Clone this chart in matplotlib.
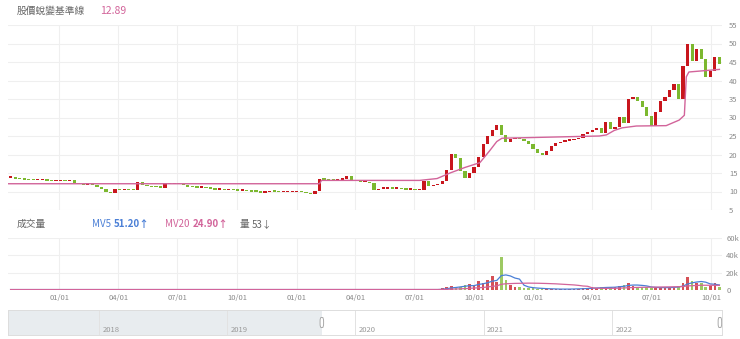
import numpy as np
import pandas as pd
import matplotlib
matplotlib.use('Agg')
import matplotlib.pyplot as plt
import matplotlib.dates as mdates
from matplotlib.patches import FancyBboxPatch

plt.rcParams['font.family'] = ['Noto Sans CJK TC', 'DejaVu Sans']

# 週資料 (由圖讀出的收盤價)
weeks = pd.date_range('2019-10-18', periods=157, freq='W-FRI')
close = [13.8, 13.5, 13.4, 13.3, 13.2, 13.1, 13.1, 13.1, 13.0, 12.9,
         12.9, 13.0, 12.9, 13.1, 12.4, 12.0, 11.8, 12.3, 11.8, 11.3,
         10.7, 10.1, 9.6, 10.7, 10.4, 10.7, 10.5, 10.4, 12.6, 11.8,
         11.5, 11.3, 11.2, 11.1, 12.4, 12.0, 12.5, 12.1, 11.8, 11.4,
         11.2, 11.1, 11.3, 11.0, 10.8, 10.6, 10.6, 10.5, 10.5, 10.4,
         10.3, 10.4, 10.2, 10.1, 10.0, 9.8, 9.9, 10.1, 10.0, 9.9,
         9.9, 9.9, 9.9, 10.0, 9.9, 9.6, 9.4, 10.2, 13.6, 13.3,
         13.2, 13.1, 13.3, 13.5, 14.2, 13.1, 12.9, 12.6, 12.7, 12.3,
         10.4, 10.9, 10.9, 10.9, 10.8, 10.8, 10.7, 10.6, 10.6, 10.4,
         10.4, 13.0, 11.5, 11.8, 12.2, 13.0, 16.0, 20.2, 19.2, 15.6,
         13.8, 15.2, 16.8, 19.5, 23.0, 25.2, 26.6, 28.2, 25.5, 23.5,
         24.2, 24.6, 24.2, 23.8, 23.0, 21.5, 20.5, 20.0, 21.0, 22.5,
         23.2, 23.5, 23.8, 24.0, 24.2, 24.5, 25.7, 26.2, 26.8, 27.3,
         25.8, 29.0, 27.0, 27.5, 30.2, 28.5, 35.0, 35.6, 34.5, 33.0,
         30.5, 27.8, 31.5, 34.6, 35.6, 37.5, 39.2, 35.0, 44.0, 50.0,
         45.5, 48.5, 46.0, 41.0, 42.8, 46.5, 44.6]
volume_k = [0.5] * 95 + [
    2, 4, 5, 3, 4, 6, 7, 5, 10, 8,
    12, 16, 9, 38, 12, 6, 4, 3, 2.5, 2,
    2, 1.5, 1.2, 1, 1, 1, 1, 1, 1.2, 1.5,
    1.5, 2, 2.5, 3, 2.5, 3, 3.5, 3, 4, 5,
    6, 8.5, 5, 4, 3, 3, 2.5, 2.5, 3, 3,
    3, 3.5, 5, 8, 15, 10, 8, 8, 4, 5,
    8, 4]

# 股價蛻變基準線 轉折點
base_dates = ['2019-10-14', '2021-02-05', '2021-02-08', '2021-07-09', '2021-08-05',
              '2021-08-25', '2021-09-17', '2021-10-10', '2021-10-25', '2021-11-05',
              '2021-11-13', '2022-04-12', '2022-04-23', '2022-05-05', '2022-05-17',
              '2022-06-08', '2022-07-24', '2022-08-13', '2022-08-21', '2022-08-24',
              '2022-08-28', '2022-10-14']
base_vals = [12.1, 12.1, 13.0, 13.0, 13.5, 15.0, 16.5, 17.8, 21.0, 23.5,
             24.4, 25.0, 25.3, 26.5, 27.2, 27.7, 27.8, 29.3, 30.6, 41.0,
             42.3, 43.0]

years = ['2018', '2019', '2020', '2021', '2022']

RED = '#c8161d'
GREEN = '#7cb82f'
PINK = '#d2649a'
BLUE = '#4a7fd6'
GRAY = '#8a8a8a'

close = np.array(close)
opens = np.r_[close[0], close[:-1]]
vol = np.array(volume_k) * 1000
up = close >= opens
cols = np.where(up, RED, GREEN)

fig = plt.figure(figsize=(7.4, 3.39), dpi=100)
x0, x1 = pd.Timestamp('2019-10-14'), pd.Timestamp('2022-10-18')

# 主圖
ax = fig.add_axes([8 / 740, 1 - 210 / 339, 714 / 740, 185 / 339])
body_lo = np.minimum(opens, close)
body_h = np.maximum(np.abs(close - opens), 0.4)
ax.bar(weeks, body_h, bottom=body_lo - 0.1, width=5, color=cols, linewidth=0)
ax.plot(pd.to_datetime(base_dates), base_vals, color=PINK, lw=1)
ax.set_xlim(x0, x1)
ax.set_ylim(5, 55)
ax.set_yticks(np.arange(5, 56, 5))
ax.yaxis.tick_right()
ax.tick_params(axis='y', length=0, labelsize=5.5, labelcolor=GRAY, pad=5)
ax.tick_params(axis='x', length=0, labelbottom=False)
qt = pd.date_range('2020-01-01', '2022-10-01', freq='QS')
ax.set_xticks(qt)
ax.grid(True, color='#efefef', lw=0.8)
ax.set_axisbelow(True)
for s in ax.spines.values():
    s.set_visible(False)


def text_row(x_px, y_px, parts):
    # 依序排列文字, 每段接在上一段之後
    fig.canvas.draw()
    r = fig.canvas.get_renderer()
    x = x_px / 740
    for txt, color, weight, gap in parts:
        t = fig.text(x, 1 - y_px / 339, txt, fontsize=7, color=color,
                     fontweight=weight, va='center')
        bb = t.get_window_extent(renderer=r)
        x = (bb.x1 + gap) / 740


text_row(17, 11, [('股價蛻變基準線', '#666666', 'normal', 18)])
fig.text(100 / 740, 1 - 11 / 339, '12.89', fontsize=7.5, color=PINK, va='center')

# 成交量
av = fig.add_axes([8 / 740, 1 - 290 / 339, 714 / 740, 52 / 339])
av.bar(weeks, vol, width=4, color=cols, alpha=0.75, linewidth=0)
mv5 = pd.Series(vol).rolling(5, min_periods=1).mean()
mv20 = pd.Series(vol).rolling(20, min_periods=1).mean()
av.plot(weeks, mv5, color=BLUE, lw=0.9)
av.plot(weeks, mv20, color=PINK, lw=0.9)
av.set_xlim(x0, x1)
av.set_ylim(0, 60000)
av.set_yticks([0, 20000, 40000, 60000])
av.set_yticklabels(['0', '20k', '40k', '60k'])
av.yaxis.tick_right()
av.tick_params(axis='y', length=0, labelsize=5.5, labelcolor=GRAY, pad=3)
av.set_xticks(qt)
av.xaxis.set_major_formatter(mdates.DateFormatter('%m/%d'))
av.tick_params(axis='x', length=0, labelsize=5.5, labelcolor=GRAY, pad=3)
av.grid(True, color='#efefef', lw=0.8)
av.set_axisbelow(True)
for s in av.spines.values():
    s.set_visible(False)

text_row(17, 224, [('成交量', '#666666', 'normal', 0)])
text_row(92, 224, [('MV5', BLUE, 'normal', 3), ('51.20↑', BLUE, 'bold', 0)])
text_row(165, 224, [('MV20', PINK, 'normal', 3), ('24.90↑', PINK, 'bold', 0)])
text_row(240, 224, [('量', '#666666', 'normal', 2), ('53↓', '#666666', 'normal', 0)])

# 區間選擇器
asl = fig.add_axes([8 / 740, 1 - 335 / 339, 714 / 740, 25 / 339])
s0, s1 = pd.Timestamp('2017-04-17'), pd.Timestamp('2022-11-11')
h0 = pd.Timestamp('2019-09-28')
asl.set_xlim(s0, s1)
asl.set_ylim(0, 1)
asl.axvspan(s0, h0, color='#e8ecef', lw=0)
for y in years:
    d = pd.Timestamp(y + '-01-01')
    asl.axvline(d, color='#e2e2e2', lw=0.7)
    asl.text(d + pd.Timedelta(days=10), 0.12, y, fontsize=5.5, color='#999999')
for d in [h0, s1 - pd.Timedelta(days=6)]:
    asl.add_patch(FancyBboxPatch((mdates.date2num(d) - 5, 0.3), 10, 0.4,
                                 boxstyle='round,pad=0,rounding_size=3',
                                 fc='white', ec='#aaaaaa', lw=0.7,
                                 mutation_aspect=0.05, zorder=5))
asl.set_xticks([])
asl.set_yticks([])
for s in asl.spines.values():
    s.set_color('#dddddd')
    s.set_linewidth(0.7)

fig.savefig('out.png', dpi=100)
